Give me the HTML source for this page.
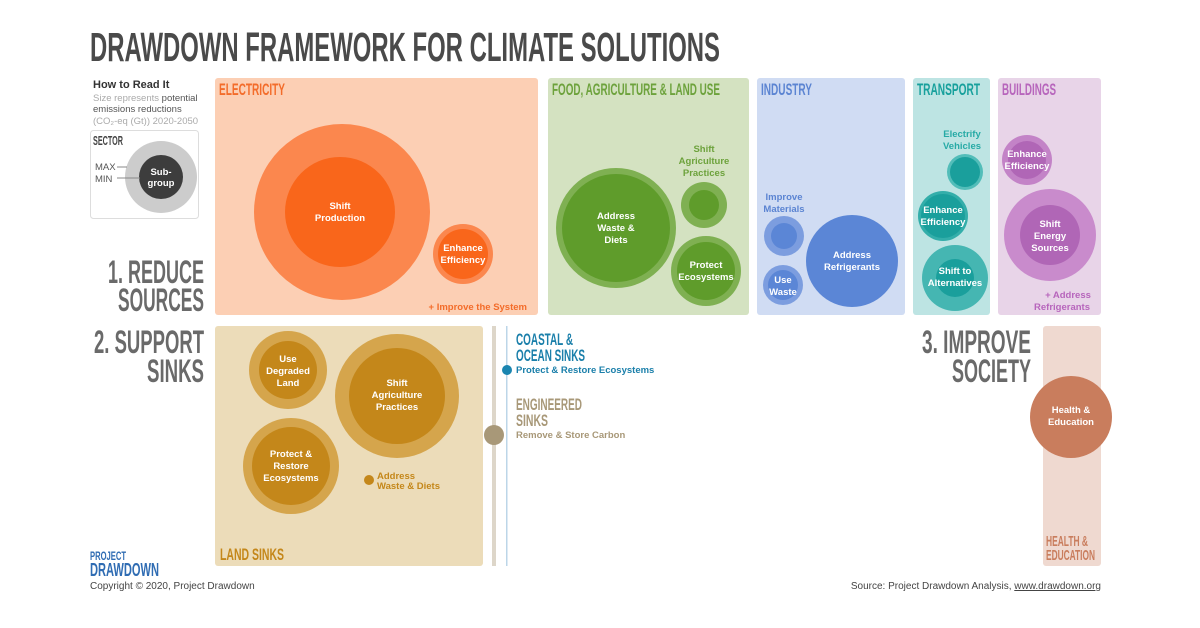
<!DOCTYPE html>
<html><head><meta charset="utf-8"><style>
html,body{margin:0;padding:0;background:#fff;}
svg{display:block;}
.h{font-family:"Liberation Sans Narrow","Liberation Sans",sans-serif;font-weight:bold;}
.t{font-family:"Liberation Sans",sans-serif;font-weight:bold;font-size:9.5px;text-anchor:middle;fill:#fff;}
.n{font-family:"Liberation Sans",sans-serif;}
</style></head><body>
<svg width="1200" height="628" viewBox="0 0 1200 628" xmlns="http://www.w3.org/2000/svg">
<rect width="1200" height="628" fill="#fff"/>
<text x="90" y="61" class="h" font-size="41" fill="#4a4a4a" textLength="630" lengthAdjust="spacingAndGlyphs">DRAWDOWN FRAMEWORK FOR CLIMATE SOLUTIONS</text>

<!-- legend -->
<text x="93" y="88" class="n" font-size="11" font-weight="bold" fill="#333">How to Read It</text>
<text x="93" y="101" class="n" font-size="9.5" fill="#aaa">Size represents <tspan fill="#555">potential</tspan></text>
<text x="93" y="112" class="n" font-size="9.5" fill="#555">emissions reductions</text>
<text x="93" y="124" class="n" font-size="9.5" fill="#aaa">(CO₂-eq (Gt)) 2020-2050</text>
<rect x="90.5" y="130.5" width="108" height="88" rx="3" fill="#fff" stroke="#ddd"/>
<text x="93" y="145" class="h" font-size="13" fill="#444" textLength="30" lengthAdjust="spacingAndGlyphs">SECTOR</text>
<circle cx="161" cy="177" r="36" fill="#ccc"/>
<circle cx="161" cy="177" r="22" fill="#3d3d3d"/>
<text x="95" y="170" class="n" font-size="9.5" fill="#555">MAX</text>
<text x="95" y="182" class="n" font-size="9.5" fill="#555">MIN</text>
<line x1="117" y1="167" x2="127" y2="167" stroke="#888"/>
<line x1="117" y1="178" x2="140" y2="178" stroke="#888"/>
<text x="161" y="175" class="t" font-size="9.5">Sub-</text>
<text x="161" y="186" class="t" font-size="9.5">group</text>

<!-- section labels -->
<g class="h" fill="#6a6a6a" font-size="32" text-anchor="end">
<text x="204" y="283" textLength="96" lengthAdjust="spacingAndGlyphs">1. REDUCE</text>
<text x="204" y="311" textLength="86" lengthAdjust="spacingAndGlyphs">SOURCES</text>
<text x="204" y="353" textLength="110" lengthAdjust="spacingAndGlyphs">2. SUPPORT</text>
<text x="204" y="382" textLength="57" lengthAdjust="spacingAndGlyphs">SINKS</text>
<text x="1031" y="353" textLength="109" lengthAdjust="spacingAndGlyphs">3. IMPROVE</text>
<text x="1031" y="382" textLength="79" lengthAdjust="spacingAndGlyphs">SOCIETY</text>
</g>

<!-- ELECTRICITY -->
<rect x="215" y="78" width="323" height="237" rx="3" fill="#fccfb4"/>
<text x="219" y="95" class="h" font-size="17" fill="#f36c2a" textLength="66" lengthAdjust="spacingAndGlyphs">ELECTRICITY</text>
<circle cx="342" cy="212" r="88" fill="#fb874e"/>
<circle cx="340" cy="212" r="55" fill="#f9661b"/>
<text x="340" y="209" class="t">Shift</text><text x="340" y="221" class="t">Production</text>
<circle cx="463" cy="254" r="30" fill="#fb874e"/>
<circle cx="463" cy="254" r="25" fill="#f9661b"/>
<text x="463" y="251" class="t">Enhance</text><text x="463" y="263" class="t">Efficiency</text>
<text x="527" y="310" class="n" font-size="9.5" font-weight="bold" fill="#f36c2a" text-anchor="end">+ Improve the System</text>

<!-- FOOD -->
<rect x="548" y="78" width="201" height="237" rx="3" fill="#d4e2c1"/>
<text x="552" y="95" class="h" font-size="17" fill="#6da23c" textLength="168" lengthAdjust="spacingAndGlyphs">FOOD, AGRICULTURE &amp; LAND USE</text>
<circle cx="616" cy="228" r="60" fill="#7fb052"/>
<circle cx="616" cy="228" r="54" fill="#5f9c2b"/>
<text x="616" y="219" class="t">Address</text><text x="616" y="231" class="t">Waste &amp;</text><text x="616" y="243" class="t">Diets</text>
<text x="704" y="152" class="t" style="fill:#6da23c">Shift</text>
<text x="704" y="164" class="t" style="fill:#6da23c">Agriculture</text>
<text x="704" y="176" class="t" style="fill:#6da23c">Practices</text>
<circle cx="704" cy="205" r="23" fill="#7fb052"/>
<circle cx="704" cy="205" r="15" fill="#5f9c2b"/>
<circle cx="706" cy="271" r="35" fill="#7fb052"/>
<circle cx="706" cy="271" r="29" fill="#5f9c2b"/>
<text x="706" y="268" class="t">Protect</text><text x="706" y="280" class="t">Ecosystems</text>

<!-- INDUSTRY -->
<rect x="757" y="78" width="148" height="237" rx="3" fill="#d0dcf3"/>
<text x="761" y="95" class="h" font-size="17" fill="#5b84d2" textLength="51" lengthAdjust="spacingAndGlyphs">INDUSTRY</text>
<text x="784" y="200" class="t" style="fill:#5b84d2">Improve</text>
<text x="784" y="212" class="t" style="fill:#5b84d2">Materials</text>
<circle cx="784" cy="236" r="20" fill="#7c9ddf"/>
<circle cx="784" cy="236" r="13" fill="#5b86d6"/>
<circle cx="783" cy="285" r="20" fill="#7c9ddf"/>
<circle cx="783" cy="285" r="15" fill="#5b86d6"/>
<text x="783" y="283" class="t">Use</text><text x="783" y="295" class="t">Waste</text>
<circle cx="852" cy="261" r="46" fill="#5b86d6"/>
<text x="852" y="258" class="t">Address</text><text x="852" y="270" class="t">Refrigerants</text>

<!-- TRANSPORT -->
<rect x="913" y="78" width="77" height="237" rx="3" fill="#bde4e3"/>
<text x="917" y="95" class="h" font-size="17" fill="#17a09c" textLength="63" lengthAdjust="spacingAndGlyphs">TRANSPORT</text>
<text x="962" y="137" class="t" style="fill:#27aaa6">Electrify</text>
<text x="962" y="149" class="t" style="fill:#27aaa6">Vehicles</text>
<circle cx="965" cy="172" r="18" fill="#52bdb9"/>
<circle cx="965" cy="172" r="15" fill="#1a9f9c"/>
<circle cx="943" cy="216" r="25" fill="#33aeaa"/>
<circle cx="943" cy="216" r="22" fill="#1a9f9c"/>
<text x="943" y="213" class="t">Enhance</text><text x="943" y="225" class="t">Efficiency</text>
<circle cx="955" cy="278" r="33" fill="#45b6b2"/>
<circle cx="955" cy="278" r="19" fill="#1a9f9c"/>
<text x="955" y="274" class="t">Shift to</text><text x="955" y="286" class="t">Alternatives</text>

<!-- BUILDINGS -->
<rect x="998" y="78" width="103" height="237" rx="3" fill="#e8d4e8"/>
<text x="1002" y="95" class="h" font-size="17" fill="#b765bc" textLength="54" lengthAdjust="spacingAndGlyphs">BUILDINGS</text>
<circle cx="1027" cy="160" r="25" fill="#c383c7"/>
<circle cx="1027" cy="160" r="19" fill="#b066b6"/>
<text x="1027" y="157" class="t">Enhance</text><text x="1027" y="169" class="t">Efficiency</text>
<circle cx="1050" cy="235" r="46" fill="#c98bcc"/>
<circle cx="1050" cy="235" r="30" fill="#b066b6"/>
<text x="1050" y="227" class="t">Shift</text><text x="1050" y="239" class="t">Energy</text><text x="1050" y="251" class="t">Sources</text>
<text x="1068" y="298" class="t" style="fill:#b765bc">+ Address</text>
<text x="1062" y="310" class="t" style="fill:#b765bc">Refrigerants</text>

<!-- LAND SINKS -->
<rect x="215" y="326" width="268" height="240" rx="3" fill="#ecdcb9"/>
<circle cx="288" cy="370" r="39" fill="#d5a54c"/>
<circle cx="288" cy="370" r="29" fill="#c4871a"/>
<text x="288" y="362" class="t">Use</text><text x="288" y="374" class="t">Degraded</text><text x="288" y="386" class="t">Land</text>
<circle cx="397" cy="396" r="62" fill="#d5a54c"/>
<circle cx="397" cy="396" r="48" fill="#c4871a"/>
<text x="397" y="386" class="t">Shift</text><text x="397" y="398" class="t">Agriculture</text><text x="397" y="410" class="t">Practices</text>
<circle cx="291" cy="466" r="48" fill="#d5a54c"/>
<circle cx="291" cy="466" r="39" fill="#c4871a"/>
<text x="291" y="457" class="t">Protect &amp;</text><text x="291" y="469" class="t">Restore</text><text x="291" y="481" class="t">Ecosystems</text>
<circle cx="369" cy="480" r="5" fill="#c4871a"/>
<text x="377" y="479" class="n" font-size="9.5" font-weight="bold" fill="#c4871a">Address</text>
<text x="377" y="489" class="n" font-size="9.5" font-weight="bold" fill="#c4871a">Waste &amp; Diets</text>
<text x="220" y="560" class="h" font-size="17" fill="#c4871a" textLength="64" lengthAdjust="spacingAndGlyphs">LAND SINKS</text>

<!-- lines -->
<rect x="492" y="326" width="4" height="240" fill="#ddd6c9"/>
<rect x="506" y="326" width="1.5" height="240" fill="#bcd6e8"/>
<circle cx="494" cy="435" r="10" fill="#a89878"/>
<circle cx="507" cy="370" r="5" fill="#1a85b0"/>
<text x="516" y="345" class="h" font-size="17" fill="#1a7faa" textLength="57" lengthAdjust="spacingAndGlyphs">COASTAL &amp;</text>
<text x="516" y="361" class="h" font-size="17" fill="#1a7faa" textLength="69" lengthAdjust="spacingAndGlyphs">OCEAN SINKS</text>
<text x="516" y="373" class="n" font-size="9.5" font-weight="bold" fill="#1a7faa">Protect &amp; Restore Ecosystems</text>
<text x="516" y="410" class="h" font-size="17" fill="#a89878" textLength="66" lengthAdjust="spacingAndGlyphs">ENGINEERED</text>
<text x="516" y="426" class="h" font-size="17" fill="#a89878" textLength="32" lengthAdjust="spacingAndGlyphs">SINKS</text>
<text x="516" y="438" class="n" font-size="9.5" font-weight="bold" fill="#a89878">Remove &amp; Store Carbon</text>

<!-- HEALTH -->
<rect x="1043" y="326" width="58" height="240" rx="3" fill="#efd9d0"/>
<circle cx="1071" cy="417" r="41" fill="#c97d5d"/>
<text x="1071" y="413" class="t">Health &amp;</text><text x="1071" y="425" class="t">Education</text>
<text x="1046" y="546" class="h" font-size="15" fill="#c97d5d" textLength="42" lengthAdjust="spacingAndGlyphs">HEALTH &amp;</text>
<text x="1046" y="560" class="h" font-size="15" fill="#c97d5d" textLength="49" lengthAdjust="spacingAndGlyphs">EDUCATION</text>

<!-- footer -->
<text x="90" y="560" class="h" font-size="12" fill="#2f6cb3" textLength="36" lengthAdjust="spacingAndGlyphs">PROJECT</text>
<text x="90" y="576" class="h" font-size="18" fill="#2f6cb3" textLength="69" lengthAdjust="spacingAndGlyphs">DRAWDOWN</text>
<text x="90" y="589" class="n" font-size="10" fill="#444">Copyright © 2020, Project Drawdown</text>
<text x="1101" y="589" class="n" font-size="10" fill="#444" text-anchor="end">Source: Project Drawdown Analysis, <tspan text-decoration="underline">www.drawdown.org</tspan></text>
</svg>
</body></html>
